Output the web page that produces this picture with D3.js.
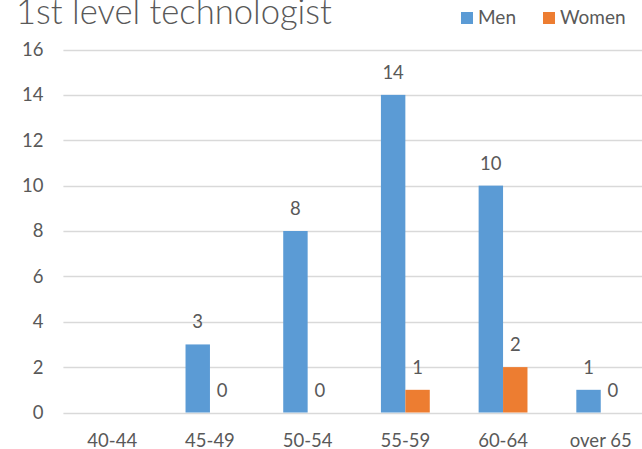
<!DOCTYPE html>
<html>
<head>
<meta charset="utf-8">
<script src="https://cdn.jsdelivr.net/npm/d3@7"></script>
<style>
  html, body { margin: 0; padding: 0; background: #fff; }
  svg { display: block; }
  text { font-family: Lato, "Open Sans", sans-serif; fill: #595959; }
</style>
</head>
<body>
<svg id="chart" width="642" height="449"></svg>
<script>
// Age groups and head counts per group
const categories = ["40-44", "45-49", "50-54", "55-59", "60-64", "over 65"];
const seriesNames = ["Men", "Women"];
const men   = [null, 3, 8, 14, 10, 1];
const women = [null, 0, 0, 1, 2, 0];
const yTicks = [0, 2, 4, 6, 8, 10, 12, 14, 16];
const titleText = "1st level technologist";

const colors = { Men: "#5B9BD5", Women: "#ED7D31" };

const W = 642, H = 449;
const plot = { left: 63.4, right: 649.6, top: 49.5, bottom: 412.5 };

const svg = d3.select("#chart");

const x0 = d3.scaleBand()
  .domain(categories)
  .range([plot.left, plot.right])
  .paddingInner(0)
  .paddingOuter(0);

const x1 = d3.scaleBand()
  .domain(seriesNames)
  .range([0, x0.bandwidth()])
  .paddingInner(0)
  .paddingOuter(1);

const y = d3.scaleLinear()
  .domain([0, 16])
  .range([plot.bottom, plot.top]);

// Horizontal gridlines
const grid = svg.append("g");
grid.selectAll("line")
  .data(yTicks)
  .join("line")
  .attr("x1", plot.left)
  .attr("x2", W)
  .attr("y1", d => Math.round(y(d)) + 0.5)
  .attr("y2", d => Math.round(y(d)) + 0.5)
  .attr("stroke", "#d9d9d9")
  .attr("stroke-width", 1.3);

// Y axis labels (no domain line, no ticks)
const yAxis = svg.append("g")
  .attr("transform", `translate(${plot.left - 20},0)`)
  .call(d3.axisLeft(y).tickValues(yTicks).tickSize(0).tickPadding(0));
yAxis.select(".domain").remove();
yAxis.selectAll("text")
  .attr("font-family", "Lato, sans-serif")
  .attr("font-size", 18.5)
  .attr("fill", "#595959");

// X axis labels
const xAxis = svg.append("g")
  .attr("transform", `translate(0,${plot.bottom})`)
  .call(d3.axisBottom(x0).tickSize(0).tickPadding(0));
xAxis.select(".domain").remove();
xAxis.selectAll("text")
  .attr("font-family", "Lato, sans-serif")
  .attr("font-size", 18.5)
  .attr("fill", "#595959")
  .attr("dy", null)
  .attr("y", 34);

// Rows for bars: one per category and series
const rows = [];
categories.forEach((c, i) => {
  rows.push({ cat: c, series: "Men", value: men[i] });
  rows.push({ cat: c, series: "Women", value: women[i] });
});
const present = rows.filter(r => r.value !== null);

svg.append("g").selectAll("rect")
  .data(present)
  .join("rect")
  .attr("x", d => x0(d.cat) + x1(d.series))
  .attr("width", x1.bandwidth())
  .attr("y", d => y(d.value))
  .attr("height", d => y(0) - y(d.value))
  .attr("fill", d => colors[d.series]);

// Value labels above each bar
svg.append("g").selectAll("text")
  .data(present)
  .join("text")
  .attr("x", d => x0(d.cat) + x1(d.series) + x1.bandwidth() / 2)
  .attr("y", d => y(d.value) - 16)
  .attr("text-anchor", "middle")
  .attr("font-size", 18.5)
  .text(d => d.value);

// Title
const title = svg.append("text")
  .attr("x", 16)
  .attr("y", 23.5)
  .attr("font-size", 31)
  .attr("font-weight", 300)
  .text(titleText);
// scale the title so it spans the same width as the chart heading block
const tw = title.node().getComputedTextLength();
title.attr("font-size", 31 * 316 / tw);

// Legend
const legendItems = [
  { name: "Men", sx: 461 },
  { name: "Women", sx: 543 }
];
const legend = svg.append("g");
legendItems.forEach(it => {
  legend.append("rect")
    .attr("x", it.sx)
    .attr("y", 12)
    .attr("width", 12)
    .attr("height", 12)
    .attr("fill", colors[it.name]);
  legend.append("text")
    .attr("x", it.sx + 17)
    .attr("y", 24)
    .attr("font-size", 19)
    .text(it.name);
});
</script>
</body>
</html>
